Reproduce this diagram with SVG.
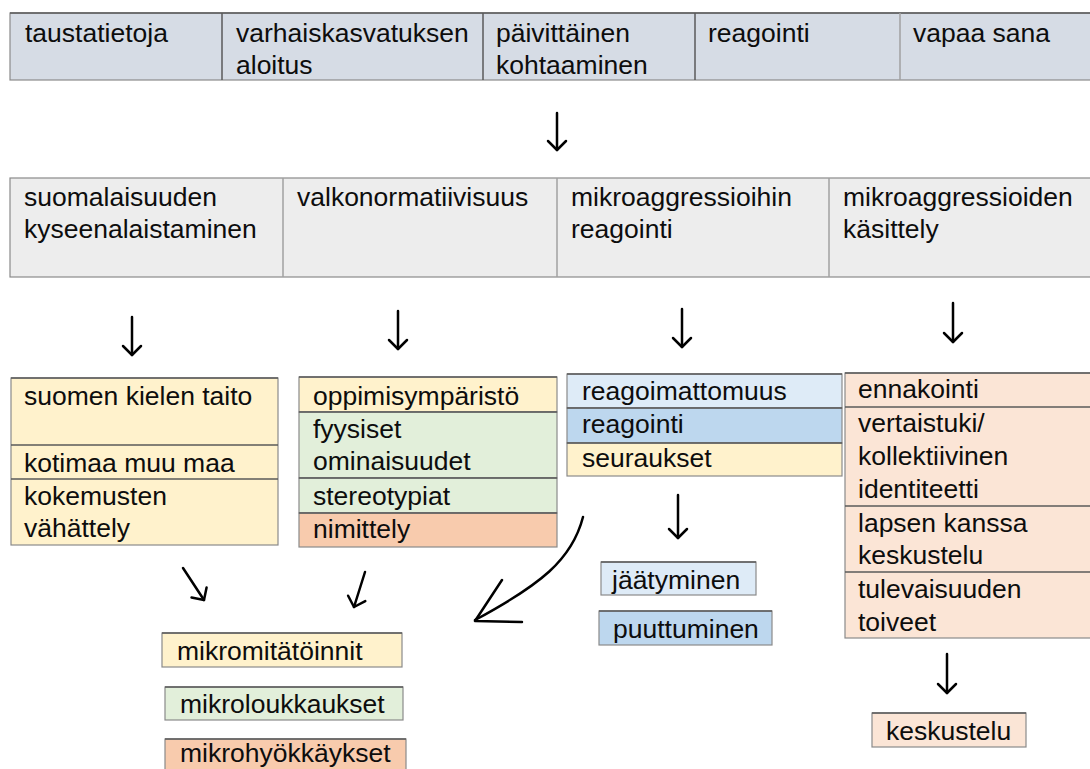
<svg xmlns="http://www.w3.org/2000/svg" width="1090" height="769" viewBox="0 0 1090 769">
<defs>
<style>
text{font-family:"Liberation Sans",Arial,sans-serif;font-size:26.5px;fill:#0d0d0d;}
.ln{stroke:#5a5a5a;stroke-width:1.5;}
.lt{stroke:#a0a0a0;stroke-width:1.5;}
.cell{stroke:#8a8a8a;stroke-width:1.2;}
.hd{fill:#d6dce5;}
.r2{fill:#ededed;}
.y{fill:#fff2cc;}
.g{fill:#e2efda;}
.o{fill:#f8cbad;}
.lb{fill:#deebf7;}
.b{fill:#bdd7ee;}
.p{fill:#fbe5d6;}
.arr{fill:none;stroke:#000;stroke-width:2.5;stroke-linecap:round;stroke-linejoin:round;}
</style>
<marker id="ah" markerUnits="userSpaceOnUse" markerWidth="30" markerHeight="30" viewBox="-15 -15 30 30" refX="0" refY="0" orient="auto" overflow="visible">
<path d="M-9,-9 L0,0 L-9,9" fill="none" stroke="#000" stroke-width="2.5" stroke-linecap="round" stroke-linejoin="round"/>
</marker>
</defs>
<rect width="1090" height="769" fill="#fff"/>

<g id="top-row">
<rect x="10" y="13" width="1090" height="67" class="hd cell"/>
<line x1="10" y1="13" x2="1090" y2="13" class="ln"/>
<line x1="222" y1="13" x2="222" y2="80" class="ln"/>
<line x1="483" y1="13" x2="483" y2="80" class="ln"/>
<line x1="695" y1="13" x2="695" y2="80" class="ln"/>
<line x1="900" y1="13" x2="900" y2="80" class="lt"/>
<text x="25" y="42">taustatietoja</text>
<text x="236" y="42">varhaiskasvatuksen</text>
<text x="236" y="74">aloitus</text>
<text x="496" y="42">päivittäinen</text>
<text x="496" y="74">kohtaaminen</text>
<text x="708" y="42">reagointi</text>
<text x="913" y="42">vapaa sana</text>
</g>

<g id="second-row">
<rect x="10" y="178" width="1090" height="99" class="r2 cell"/>
<line x1="283" y1="178" x2="283" y2="277" class="lt"/>
<line x1="557" y1="178" x2="557" y2="277" class="lt"/>
<line x1="829" y1="178" x2="829" y2="277" class="lt"/>
<text x="24" y="206">suomalaisuuden</text>
<text x="24" y="238">kyseenalaistaminen</text>
<text x="297" y="206">valkonormatiivisuus</text>
<text x="571" y="206">mikroaggressioihin</text>
<text x="571" y="238">reagointi</text>
<text x="843" y="206">mikroaggressioiden</text>
<text x="843" y="238">käsittely</text>
</g>

<g id="box-suomalaisuus">
<rect x="11" y="378" width="267" height="167" class="y cell"/>
<line x1="11" y1="378" x2="278" y2="378" class="ln"/>
<line x1="11" y1="445" x2="278" y2="445" class="ln"/>
<line x1="11" y1="479" x2="278" y2="479" class="ln"/>
<text x="24" y="405">suomen kielen taito</text>
<text x="24" y="472">kotimaa muu maa</text>
<text x="24" y="505">kokemusten</text>
<text x="24" y="537">vähättely</text>
</g>

<g id="box-valkonormatiivisuus">
<rect x="299" y="377" width="258" height="35" class="y cell"/>
<rect x="299" y="412" width="258" height="66" class="g cell"/>
<rect x="299" y="478" width="258" height="35" class="g cell"/>
<rect x="299" y="513" width="258" height="34" class="o cell"/>
<line x1="299" y1="377" x2="557" y2="377" class="ln"/>
<line x1="299" y1="412" x2="557" y2="412" class="ln"/>
<line x1="299" y1="478" x2="557" y2="478" class="ln"/>
<line x1="299" y1="513" x2="557" y2="513" class="ln"/>
<text x="313" y="405">oppimisympäristö</text>
<text x="313" y="438">fyysiset</text>
<text x="313" y="470">ominaisuudet</text>
<text x="313" y="505">stereotypiat</text>
<text x="313" y="538">nimittely</text>
</g>

<g id="box-reagointi">
<rect x="567" y="374" width="275" height="34" class="lb cell"/>
<rect x="567" y="408" width="275" height="35" class="b cell"/>
<rect x="567" y="443" width="275" height="33" class="y cell"/>
<line x1="567" y1="374" x2="842" y2="374" class="ln"/>
<line x1="567" y1="408" x2="842" y2="408" class="ln"/>
<line x1="567" y1="443" x2="842" y2="443" class="ln"/>
<text x="582" y="400">reagoimattomuus</text>
<text x="582" y="433">reagointi</text>
<text x="582" y="467">seuraukset</text>
</g>

<g id="box-kasittely">
<rect x="845" y="373" width="250" height="265" class="p cell"/>
<line x1="845" y1="373" x2="1090" y2="373" class="ln"/>
<line x1="845" y1="407" x2="1090" y2="407" class="ln"/>
<line x1="845" y1="506" x2="1090" y2="506" class="ln"/>
<line x1="845" y1="572" x2="1090" y2="572" class="ln"/>
<text x="858" y="398">ennakointi</text>
<text x="858" y="432">vertaistuki/</text>
<text x="858" y="465">kollektiivinen</text>
<text x="858" y="498">identiteetti</text>
<text x="858" y="532">lapsen kanssa</text>
<text x="858" y="564">keskustelu</text>
<text x="858" y="598">tulevaisuuden</text>
<text x="858" y="631">toiveet</text>
</g>

<g id="node-jaatyminen">
<rect x="601" y="562" width="155" height="33" class="lb cell"/>
<line x1="601" y1="562" x2="756" y2="562" class="ln"/>
<text x="612" y="589">jäätyminen</text>
</g>
<g id="node-puuttuminen">
<rect x="599" y="611" width="173" height="34" class="b cell"/>
<line x1="599" y1="611" x2="772" y2="611" class="ln"/>
<text x="613" y="638">puuttuminen</text>
</g>

<g id="node-mikromitatoinnit">
<rect x="162" y="633" width="240" height="34" class="y cell"/>
<line x1="162" y1="633" x2="402" y2="633" class="ln"/>
<text x="177" y="660">mikromitätöinnit</text>
</g>
<g id="node-mikroloukkaukset">
<rect x="165" y="687" width="238" height="33" class="g cell"/>
<line x1="165" y1="687" x2="403" y2="687" class="ln"/>
<text x="180" y="713">mikroloukkaukset</text>
</g>
<g id="node-mikrohyokkaykset">
<rect x="165" y="739" width="241" height="40" class="o cell"/>
<line x1="165" y1="739" x2="406" y2="739" class="ln"/>
<text x="180" y="762">mikrohyökkäykset</text>
</g>

<g id="node-keskustelu">
<rect x="872" y="713" width="154" height="34" class="p cell"/>
<line x1="872" y1="713" x2="1026" y2="713" class="ln"/>
<text x="886" y="740">keskustelu</text>
</g>

<g id="connectors">
<line x1="557" y1="113" x2="557" y2="150" class="arr" marker-end="url(#ah)"/>
<line x1="132" y1="317" x2="132" y2="355" class="arr" marker-end="url(#ah)"/>
<line x1="398" y1="311" x2="398" y2="349" class="arr" marker-end="url(#ah)"/>
<line x1="682" y1="309" x2="682" y2="347" class="arr" marker-end="url(#ah)"/>
<line x1="953" y1="303" x2="953" y2="342" class="arr" marker-end="url(#ah)"/>
<line x1="678" y1="495" x2="678" y2="538" class="arr" marker-end="url(#ah)"/>
<line x1="947" y1="654" x2="947" y2="693" class="arr" marker-end="url(#ah)"/>
<line x1="183" y1="568" x2="204" y2="600" class="arr" marker-end="url(#ah)"/>
<line x1="365" y1="572" x2="354" y2="607" class="arr" marker-end="url(#ah)"/>
<path d="M583,517 C572,560 540,585 475,620" class="arr"/>
<path d="M502,580 L475,621 L522,622" class="arr"/>
</g>
</svg>
